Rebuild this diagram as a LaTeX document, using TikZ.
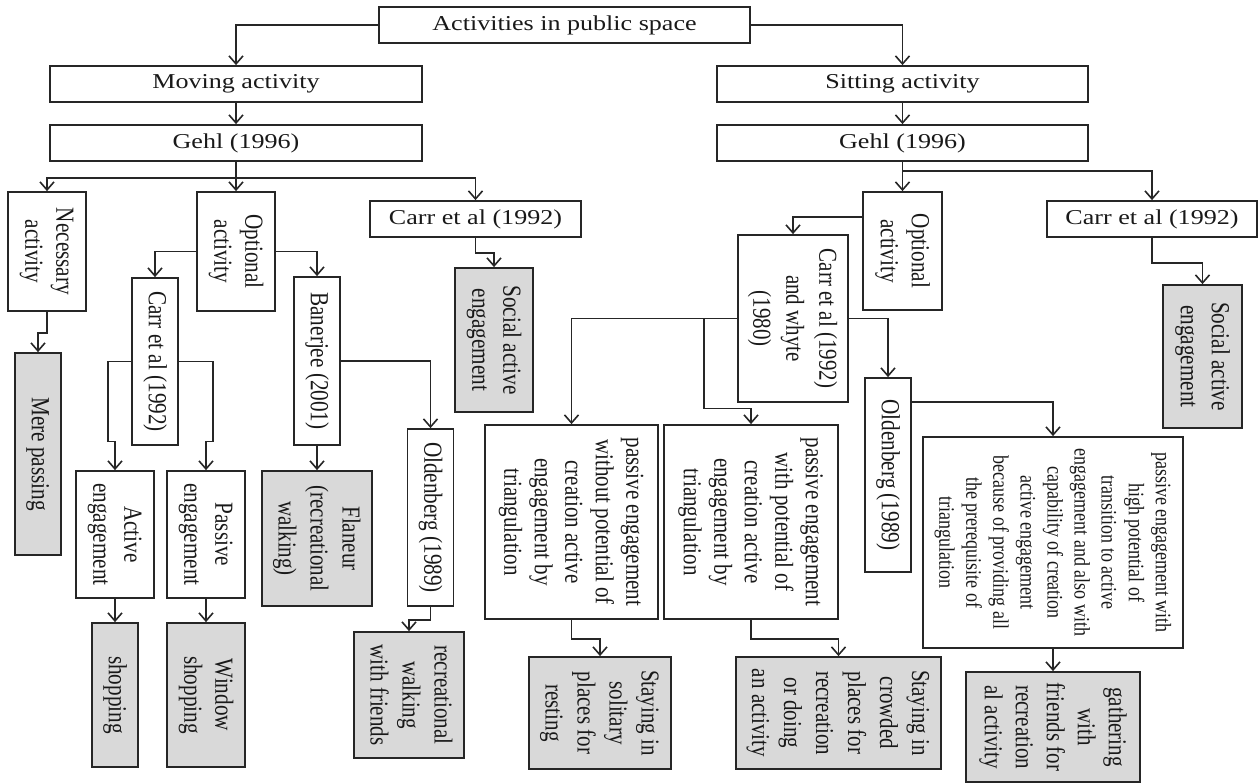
\documentclass[tikz,border=0pt]{standalone}
\usepackage{fontspec}
\setmainfont{Liberation Serif}
\usepackage{graphicx}
\usepackage{xcolor}
\usepackage{tikz}
\usetikzlibrary{arrows.meta}
\usetikzlibrary{calc}
\tikzset{ act_box/.style = {rectangle, draw=black!85, text=black!90, line width=0.9pt, inner sep=0pt, align=center, font=\fontsize{10.6}{12.6}\selectfont} }
\tikzset{ end_box/.style = {act_box, fill=gray!30} }
\tikzset{ box_size/.style 2 args = {minimum width=#1*0.5pt, minimum height=#2*0.5pt} }
\tikzset{ link/.style = {draw=black!85, line width=0.8pt, -{Straight Barb[length=4pt,width=7pt]}} }
\newcommand{\hlab}[1]{\scalebox{1.23}[1]{#1}}
\newcommand{\vlab}[1]{\rotatebox{-90}{\scalebox{1}[1.23]{\begin{tabular}{@{}c@{}}#1\end{tabular}}}}

\begin{document}
\begin{tikzpicture}[x=0.5pt,y=-0.5pt]
    \useasboundingbox (0,0) rectangle (1258,783);
    % top levels
    \node [style=act_box, box_size={371}{36}] (top) at (564.5,25) {\hlab{Activities in public space}};
    \node [style=act_box, box_size={372}{36}] (move) at (236,84) {\hlab{Moving activity}};
    \node [style=act_box, box_size={372}{36}] (gehlL) at (236,143) {\hlab{Gehl (1996)}};
    \node [style=act_box, box_size={371}{36}] (sit) at (902.5,84) {\hlab{Sitting activity}};
    \node [style=act_box, box_size={371}{36}] (gehlR) at (902.5,143) {\hlab{Gehl (1996)}};
    % moving activity
    \node [style=act_box, box_size={78}{119}] (nec) at (47,251.5) {\vlab{Necessary\\activity}};
    \node [style=act_box, box_size={78}{119}] (optL) at (236,251.5) {\vlab{Optional\\activity}};
    \node [style=act_box, box_size={211}{36}] (carrL) at (475.5,219) {\hlab{Carr et al (1992)}};
    \node [style=end_box, box_size={78}{144}] (socL) at (494,340) {\vlab{Social active\\engagement}};
    \node [style=end_box, box_size={46}{202}] (mere) at (38,454) {\vlab{Mere passing}};
    \node [style=act_box, box_size={46}{167}] (carrV) at (155,361.5) {\vlab{Carr et al (1992)}};
    \node [style=act_box, box_size={46}{168}] (ban) at (317,361) {\vlab{Banerjee (2001)}};
    \node [style=act_box, box_size={78}{127}] (act) at (115,534.5) {\vlab{Active\\engagement}};
    \node [style=act_box, box_size={78}{127}] (pas) at (206,534.5) {\vlab{Passive\\engagement}};
    \node [style=end_box, box_size={46}{144}] (shop) at (115,695) {\vlab{shopping}};
    \node [style=end_box, box_size={78}{144}] (win) at (206,695) {\vlab{Window\\shopping}};
    \node [style=end_box, box_size={110}{135}, font=\fontsize{10.5}{13}\selectfont] (flan) at (317,538.5) {\vlab{Flaneur\\(recreational\\walking)}};
    \node [style=act_box, box_size={46}{177}] (oldL) at (430.5,517.5) {\vlab{Oldenberg (1989)}};
    \node [style=end_box, box_size={110}{126}, font=\fontsize{10.5}{13}\selectfont] (recw) at (409,695) {\vlab{recreational\\walking\\with friends}};
    % sitting activity
    \node [style=act_box, box_size={79}{118}] (optR) at (902.5,251) {\vlab{Optional\\activity}};
    \node [style=act_box, box_size={210}{36}] (carrR) at (1152,219) {\hlab{Carr et al (1992)}};
    \node [style=end_box, box_size={79}{143}] (socR) at (1202.5,356.5) {\vlab{Social active\\engagement}};
    \node [style=act_box, box_size={110}{167}, font=\fontsize{10.5}{13.4}\selectfont] (carrW) at (793,318.5) {\vlab{Carr et al (1992)\\and whyte\\(1980)}};
    \node [style=act_box, box_size={46}{194}] (oldR) at (888,475) {\vlab{Oldenberg (1989)}};
    \node [style=act_box, box_size={173}{194}, font=\fontsize{10.5}{12.4}\selectfont] (pas1) at (571.5,522) {\vlab{passive engagement\\without potential of\\creation active\\engagement by\\triangulation}};
    \node [style=act_box, box_size={174}{194}, font=\fontsize{10.5}{12.4}\selectfont] (pas2) at (751,522) {\vlab{passive engagement\\with potential of\\creation active\\engagement by\\triangulation}};
    \node [style=act_box, box_size={260}{211}, font=\fontsize{9}{11}\selectfont] (big) at (1053,542.5) {\vlab{passive engagement with\\high potential of\\transition to active\\engagement and also with\\capability of creation\\active engagement\\because of providing all\\the prerequisite of\\triangulation}};
    \node [style=end_box, box_size={142}{112}, font=\fontsize{10.5}{13}\selectfont] (sol) at (600,713) {\vlab{Staying in\\solitary\\places for\\resting}};
    \node [style=end_box, box_size={205}{112}, font=\fontsize{10.5}{13}\selectfont] (crowd) at (838.5,713) {\vlab{Staying in\\crowded\\places for\\recreation\\or doing\\an activity}};
    \node [style=end_box, box_size={174}{110}, font=\fontsize{10.5}{12.6}\selectfont] (gath) at (1053,727) {\vlab{gathering\\with\\friends for\\recreation\\al activity}};
    % connectors left
    \draw [link] (top.west) -| (move.north);
    \draw [link] (top.east) -| (sit.north);
    \draw [link] (move.south) -- (gehlL.north);
    \draw [link] (sit.south) -- (gehlR.north);
    \draw [link] (gehlL.south) -- ++(0,16) -| (nec.north);
    \draw [link] (gehlL.south) -- (optL.north);
    \draw [link] (gehlL.south) -- ++(0,16) -| (carrL.north);
    \draw [link] (carrL.south) -- ++(0,15) -| (socL.north);
    \draw [link] (nec.south) -- ++(0,21) -| (mere.north);
    \draw [link] (optL.west) -| (carrV.north);
    \draw [link] (optL.east) -| (ban.north);
    \draw [link] (carrV.west) -- ++(-23,0) -- ++(0,80) -| (act.north);
    \draw [link] (carrV.east) -- ++(34,0) -- ++(0,80) -| (pas.north);
    \draw [link] (ban.south) -- (flan.north);
    \draw [link] (ban.east) -| (oldL.north);
    \draw [link] (act.south) -- (shop.north);
    \draw [link] (pas.south) -- (win.north);
    \draw [link] (oldL.south) -- ++(0,13) -| (recw.north);
    % connectors right
    \draw [link] (gehlR.south) -- (optR.north);
    \draw [link] (gehlR.south) -- ++(0,9) -| (carrR.north);
    \draw [link] (carrR.south) -- ++(0,25) -| (socR.north);
    \draw [link] ([yshift=-13pt]optR.north west) -| (carrW.north);
    \draw [link] (carrW.east) -| (oldR.north);
    \draw [link] (carrW.west) -| (pas1.north);
    \draw [link] (carrW.west) -- ++(-33,0) -- ++(0,90) -| (pas2.north);
    \draw [link] ([yshift=-12.5pt]oldR.north east) -| (big.north);
    \draw [link] (pas1.south) -- ++(0,19) -| (sol.north);
    \draw [link] (pas2.south) -- ++(0,19) -| (crowd.north);
    \draw [link] (big.south) -- (gath.north);
\end{tikzpicture}
\end{document}
